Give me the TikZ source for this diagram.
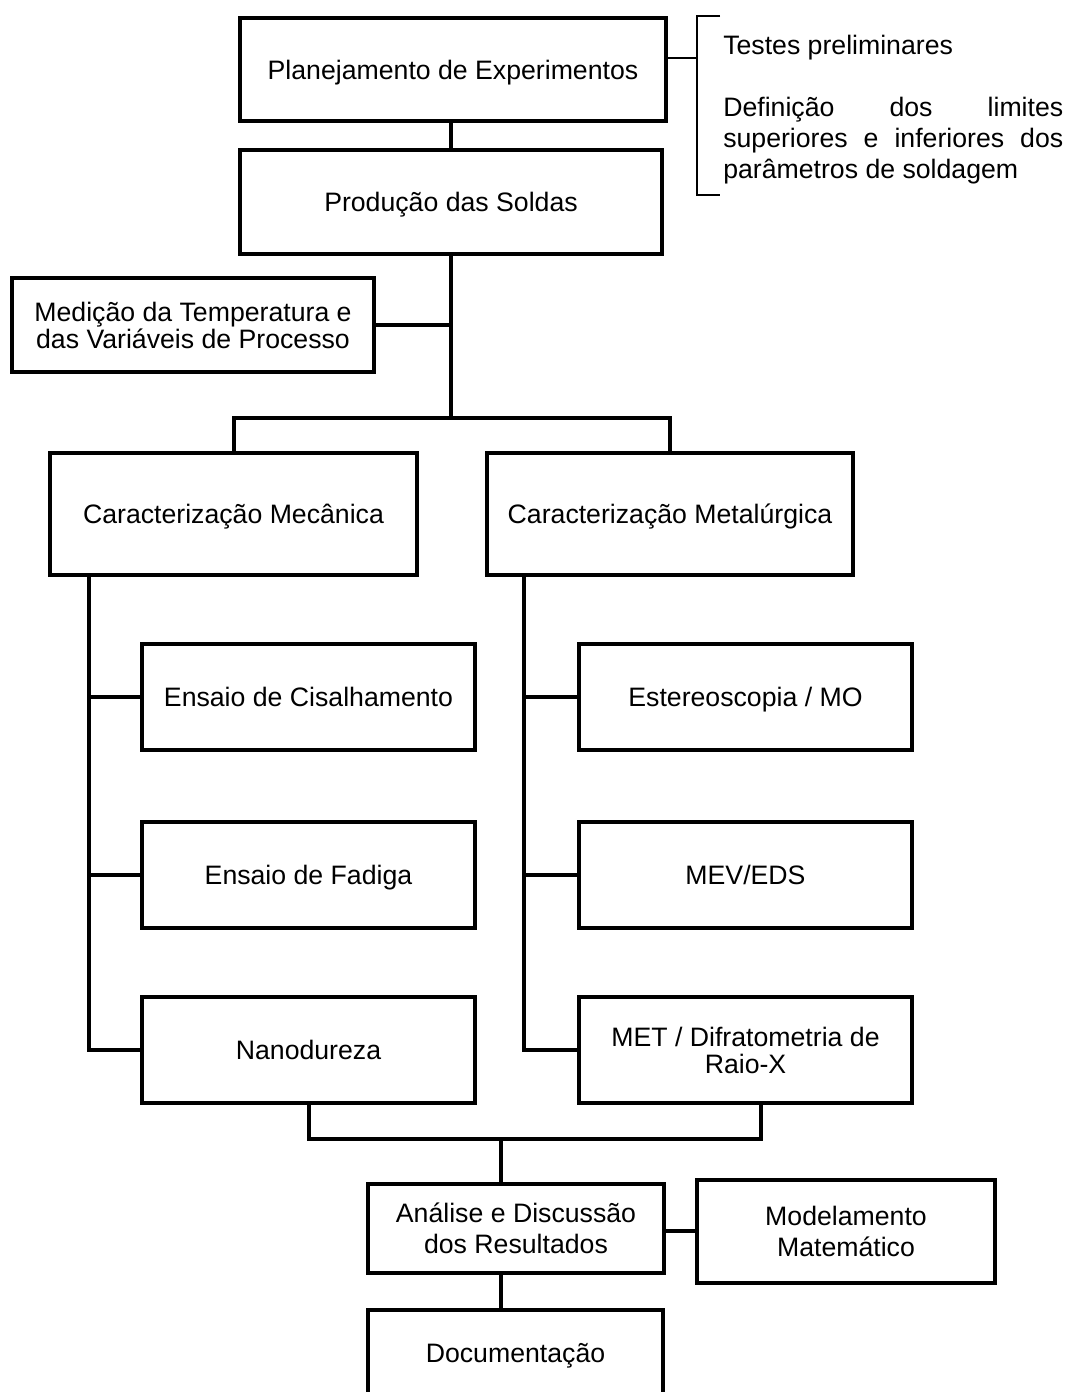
\documentclass[tikz,border=0pt]{standalone}
\usepackage{fontspec}
\setmainfont{Liberation Sans}
\setlength{\parindent}{0pt}
\begin{document}
\begin{tikzpicture}[x=0.75pt,y=-0.75pt,
  bx/.style n args={2}{draw, line width=3pt, inner sep=0pt, align=center,
     minimum width=#1*0.75pt, minimum height=#2*0.75pt,
     font=\fontsize{20}{20.25}\selectfont},
  sl/.style={text height=16.5pt, text depth=2pt},
  ln/.style={line width=3pt},
  brk/.style={line width=1.1pt}]
\useasboundingbox (0,0) rectangle (1069,1392);
\begin{scope}
\clip (0,0) rectangle (1069,1392);
\node[bx={426}{103}, sl] (plan) at (453,69.5) {Planejamento de Experimentos};
\node[bx={422}{104}, sl] (prod) at (451,202) {Produção das Soldas};
\node[bx={362}{94}] (med) at (193,325) {Medição da Temperatura e\\das Variáveis de Processo};
\node[bx={367}{122}, sl] (mec) at (233.5,514) {Caracterização Mecânica};
\node[bx={366}{122}, sl] (met) at (670,514) {Caracterização Metalúrgica};
\node[bx={333}{106}, sl] (cis) at (308.5,697) {Ensaio de Cisalhamento};
\node[bx={333}{106}, sl] (fad) at (308.5,875) {Ensaio de Fadiga};
\node[bx={333}{106}, sl] (nano) at (308.5,1050) {Nanodureza};
\node[bx={333}{106}, sl] (est) at (745.5,697) {Estereoscopia / MO};
\node[bx={333}{106}, sl] (mev) at (745.5,875) {MEV/EDS};
\node[bx={333}{106}] (metx) at (745.5,1050) {MET / Difratometria de\\Raio-X};
\node[bx={296}{89}, font=\fontsize{20}{23.25}\selectfont] (ana) at (516,1228) {Análise e Discussão\\dos Resultados};
\node[bx={298}{103}, font=\fontsize{20}{23.25}\selectfont] (mod) at (846,1231.5) {Modelamento\\Matemático};
\node[bx={295}{86}, sl] (doc) at (515.5,1353) {Documentação};

\coordinate (j) at (451,418);
\coordinate (ms) at (89,575);
\coordinate (ts) at (524,575);
\coordinate (bj) at (501,1139);
\coordinate (b1) at (761,1103);
\coordinate (br) at (697,58);

\draw[ln] (prod.north) -- (prod.north |- plan.south);
\draw[ln] (prod.south) -- (j);
\draw[ln] (med.east) -- (med.east -| j);
\draw[ln] (mec.north) |- (j) -| (met.north);
\draw[ln] (ms) |- (nano.west);
\draw[ln] (cis.west) -- (cis.west -| ms);
\draw[ln] (fad.west) -- (fad.west -| ms);
\draw[ln] (ts) |- (metx.west);
\draw[ln] (est.west) -- (est.west -| ts);
\draw[ln] (mev.west) -- (mev.west -| ts);
\draw[ln] (nano.south) |- (bj) -| (b1);
\draw[ln] (bj) -- (bj |- ana.north);
\draw[ln] ([yshift=-3*0.75pt]ana.east) -- ([yshift=-3*0.75pt]ana.east -| mod.west);
\draw[ln] (ana.south -| bj) -- (doc.north -| bj);

\draw[brk] (plan.east |- br) -- (br);
\draw[brk] (720,16) -- (697,16) -- (697,195) -- (720,195);
\node[anchor=north west, inner sep=0pt, text width=340*0.75pt, align=justify,
  font=\fontsize{20}{23.25}\selectfont] (txt) at (723,35)
  {Testes preliminares\par\vspace{\baselineskip}Definição dos limites\linebreak superiores e inferiores dos\linebreak parâmetros de soldagem};
\end{scope}
\end{tikzpicture}
\end{document}
